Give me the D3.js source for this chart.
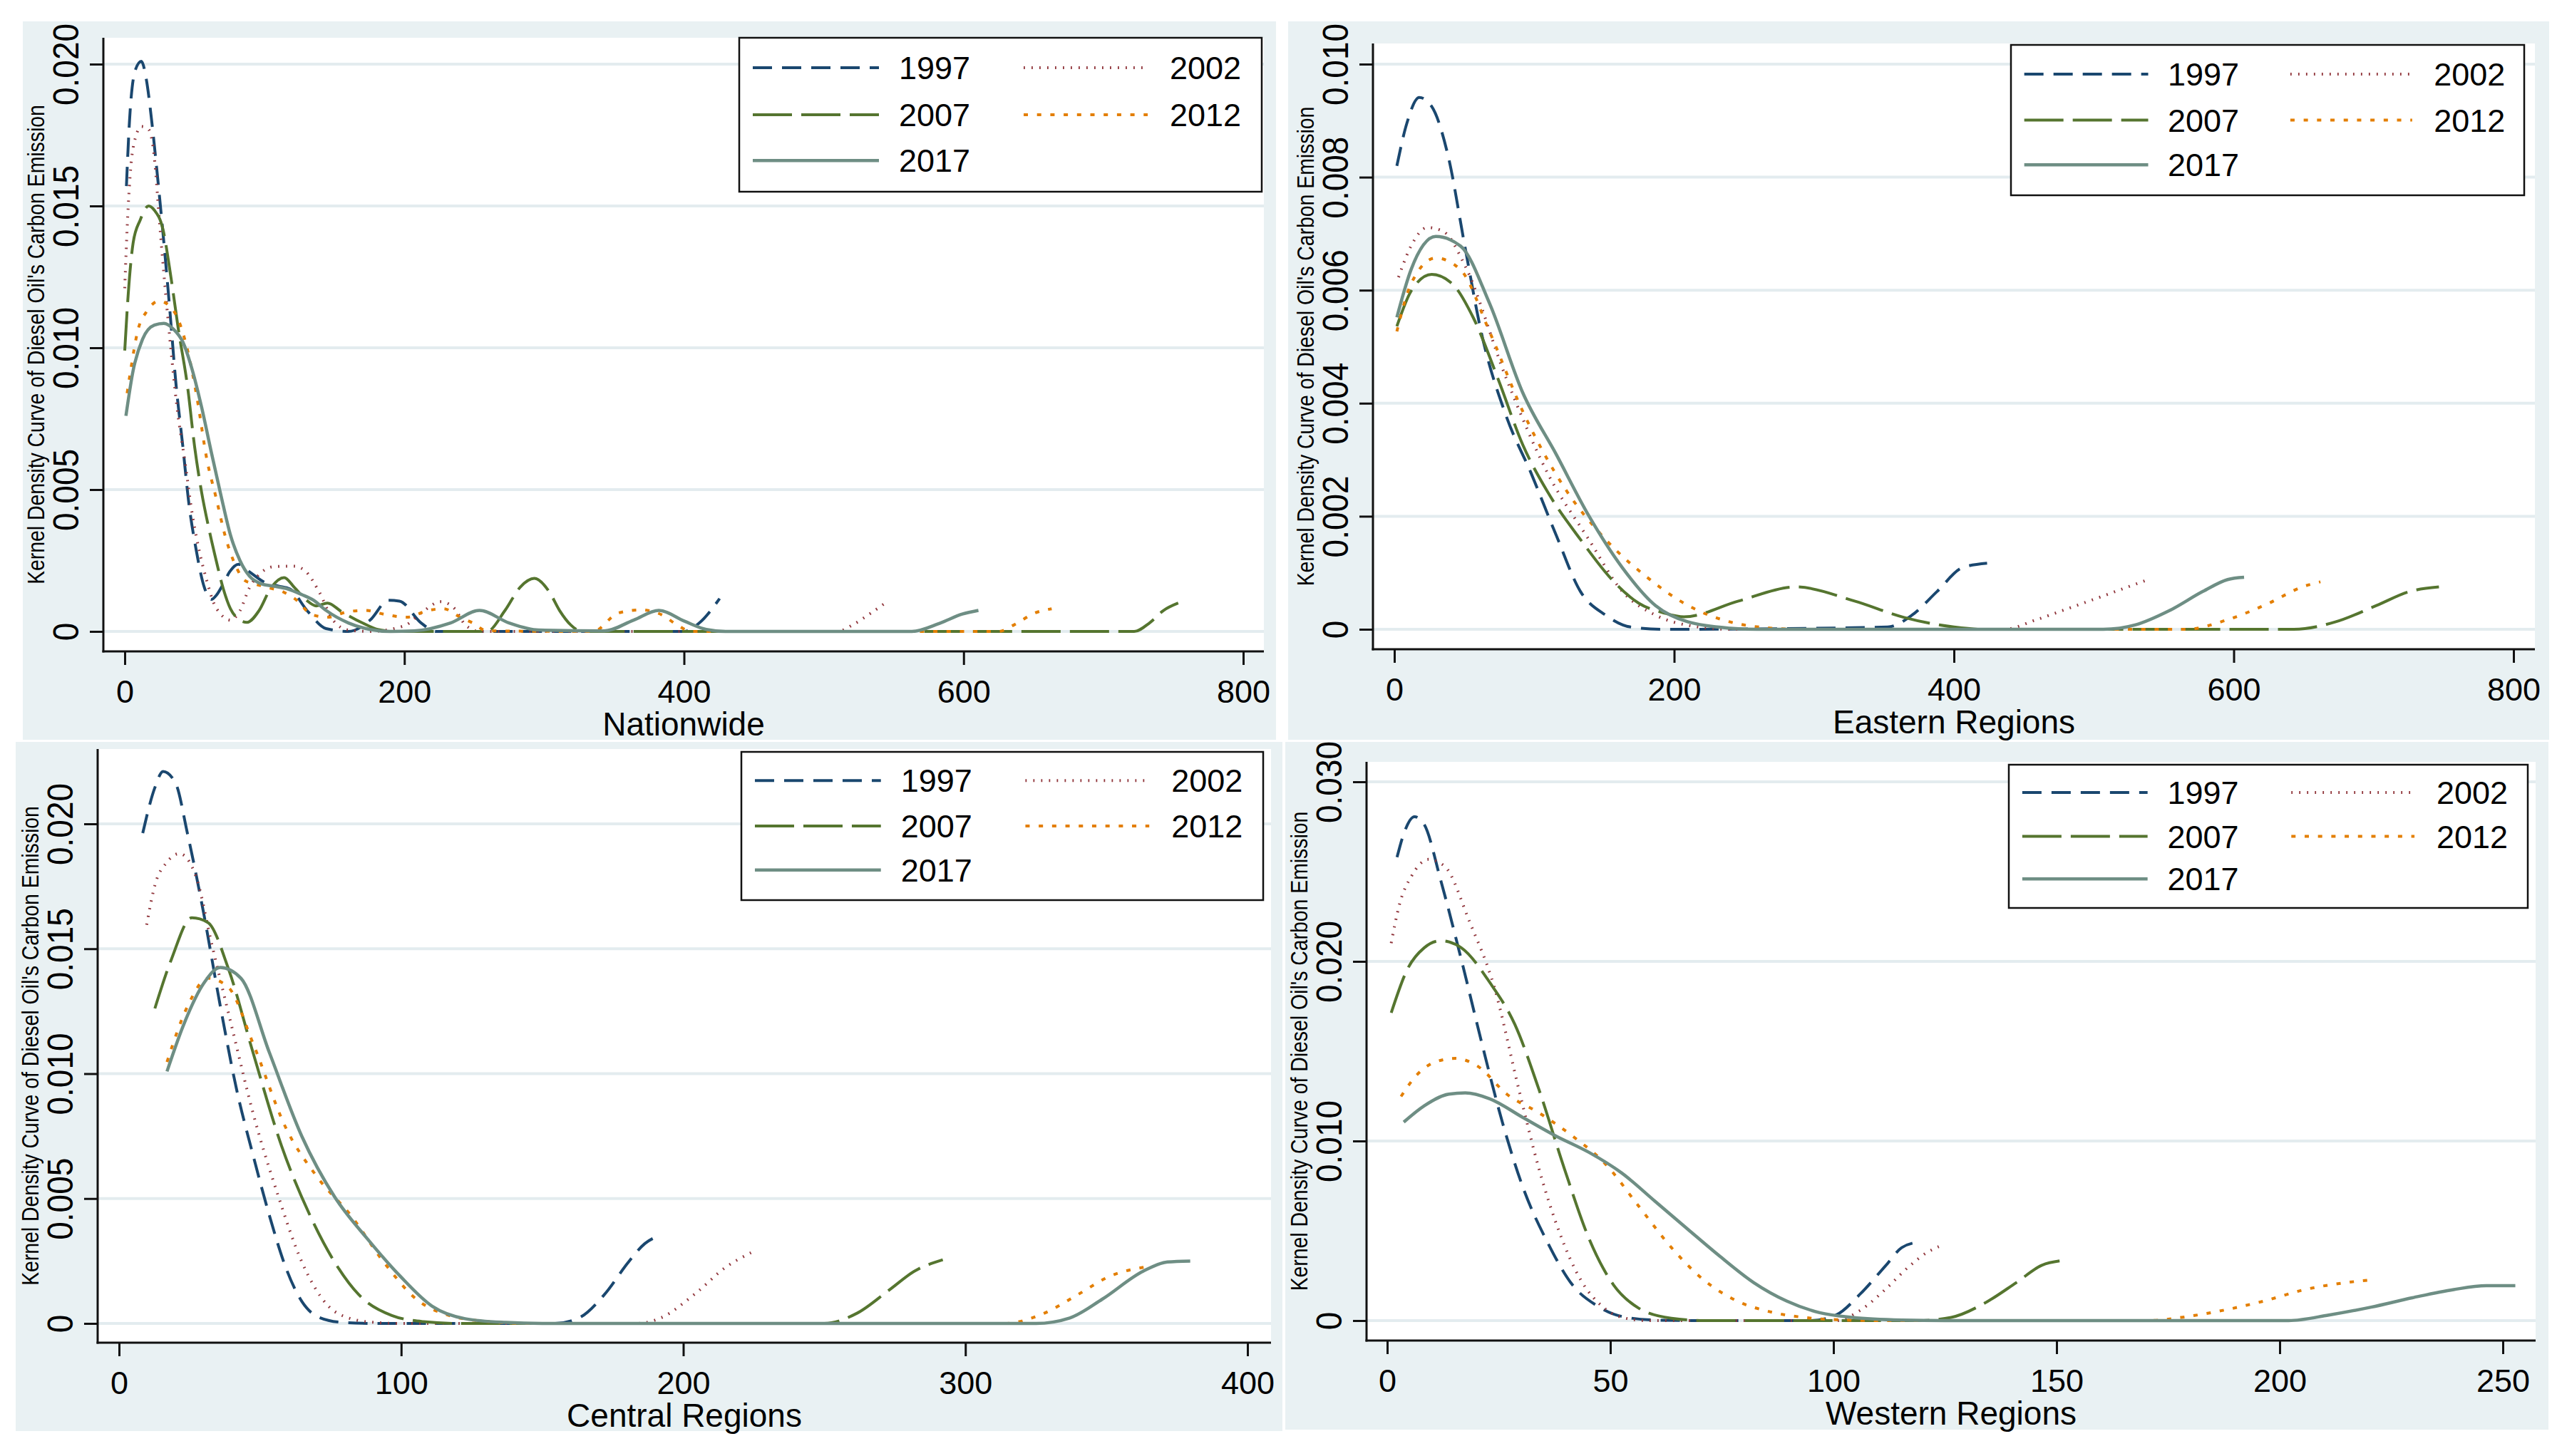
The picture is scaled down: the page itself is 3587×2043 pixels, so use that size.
<!DOCTYPE html>
<html>
<head>
<meta charset="utf-8">
<script src="https://cdn.jsdelivr.net/npm/d3@7"></script>
<style>
  body { margin: 0; background: #fff; }
  svg { display: block; }
  text { font-family: "Liberation Sans", Arial, sans-serif; fill: #000; }
</style>
</head>
<body>
<div id="chart"></div>
<script>
// ---- values ----
var years = ["1997", "2002", "2007", "2012", "2017"];
var yTitle = "Kernel Density Curve of Diesel Oil's Carbon Emission";
var panelTitles = ["Nationwide", "Eastern Regions", "Central Regions", "Western Regions"];

var xTicksWide = [0, 200, 400, 600, 800];
var xTicksCentral = [0, 100, 200, 300, 400];
var xTicksWestern = [0, 50, 100, 150, 200, 250];
var yTicksNation = [0, 0.005, 0.010, 0.015, 0.020];
var yTicksEastern = [0, 0.002, 0.004, 0.006, 0.008, 0.010];
var yTicksCentral = [0, 0.005, 0.010, 0.015, 0.020];
var yTicksWestern = [0, 0.010, 0.020, 0.030];

// Nationwide
var nation1997 = [[1.2,0.0157],[3.4,0.0180],[7.6,0.0198],[11.9,0.0201],[15.3,0.0195],[19.5,0.0179],[22.9,0.0163],[28,0.0137],[32.3,0.0113],[36.5,0.0088],[41.6,0.0065],[45.9,0.0045],[51,0.0029],[57,0.00154],[62,0.00113],[65.4,0.00127],[70.5,0.00168],[75,0.0021],[81.4,0.00237],[89.2,0.0021],[99.7,0.00174],[110,0.0016],[118,0.0015],[131,0.0007],[144,0.0001],[160,0],[175.5,0.0004],[188.6,0.0011],[196.5,0.00107],[212,0.0003],[222.6,0],[400,0],[411,0.0003],[425.5,0.00116]];
var nation2002 = [[0,0.0121],[1.7,0.0142],[4.2,0.0163],[7.6,0.0174],[11.9,0.0178],[17,0.0177],[21.2,0.0167],[24.6,0.0146],[28,0.0126],[32.3,0.0103],[37.4,0.0079],[43.3,0.0059],[48.4,0.0041],[53.5,0.0028],[58.6,0.0018],[63.7,0.0010],[68.8,0.0006],[75.6,0.0004],[82.4,0.00073],[89.2,0.00154],[97.7,0.00208],[106,0.00228],[114.7,0.0023],[121,0.0023],[128.5,0.00216],[139,0.0014],[149,0.0004],[160,0.00005],[175,0],[200,0.0002],[212,0.00065],[226,0.00105],[236,0.0008],[243.6,0.00023],[254,0],[510,0],[520.6,0.00023],[533.8,0.00065],[545.8,0.00107]];
var nation2007 = [[0,0.0099],[2.5,0.0119],[6,0.0137],[11,0.0145],[17,0.0150],[21.2,0.01485],[27.2,0.0142],[33,0.0125],[38.2,0.0107],[45,0.0086],[50,0.0065],[55,0.0049],[60.3,0.0036],[65.4,0.0025],[70.5,0.0015],[75.6,0.0008],[80.8,0.00046],[87.5,0.00032],[96,0.00073],[104.6,0.00154],[114,0.0019],[121.5,0.00154],[130,0.0011],[137,0.0009],[145,0.001],[155,0.0007],[170,0.0003],[181,0.00007],[195,0],[259,0],[272,0.00074],[283,0.00157],[293,0.00187],[303.6,0.0014],[311,0.00074],[319,0.00023],[327,0],[722,0],[733,0.0003],[743,0.00074],[753.5,0.001]];
var nation2012 = [[1.7,0.0084],[4.2,0.0092],[9.3,0.0106],[16,0.0113],[24.6,0.01165],[31.4,0.0115],[38.2,0.0110],[45,0.0099],[51.8,0.0082],[58.6,0.0061],[65.4,0.0047],[72.2,0.0033],[79,0.00235],[85.8,0.0018],[92.6,0.00168],[102.8,0.00154],[113,0.0014],[123,0.0011],[133.5,0.0006],[145,0.0005],[160,0.0007],[172,0.00074],[186,0.0006],[201.7,0.0005],[217,0.00074],[228,0.0008],[240,0.0005],[248.8,0.0003],[259,0.00002],[335,0],[353,0.00065],[369,0.00076],[384.8,0.00057],[395,0.00023],[405.6,0],[625,0],[636,0.00023],[651,0.00065],[663,0.0008]];
var nation2017 = [[0.85,0.0076],[6,0.0092],[12.7,0.0103],[21.2,0.0108],[28,0.01086],[34.8,0.01066],[41.6,0.0102],[48.4,0.0092],[55,0.0079],[62,0.0063],[68.8,0.0048],[75.6,0.0034],[82.4,0.0025],[89.2,0.00195],[97.7,0.00168],[106,0.0016],[116.4,0.0015],[126.6,0.0013],[135,0.0011],[144,0.00074],[160,0.0003],[175.5,0.00007],[190,0],[207,0.00002],[233,0.0003],[253.7,0.00074],[274.9,0.0003],[296,0.00005],[343,0.00002],[364,0.0004],[382,0.00074],[400.4,0.00036],[416,0.00007],[430,0],[563,0],[583.5,0.0003],[599,0.00061],[610.6,0.00074]];

// Eastern Regions
var east1997 = [[1.8,0.0082],[8.9,0.00895],[17.8,0.00941],[26.7,0.00925],[38.5,0.00837],[50.4,0.00678],[62,0.00527],[80,0.00377],[97.8,0.00276],[115.6,0.00167],[133,0.00067],[151,0.00025],[169,0.00004],[192.6,0],[352.6,0.00004],[370,0.00025],[388,0.00067],[406,0.00109],[423.7,0.00117]];
var east2002 = [[3,0.00623],[11.9,0.00678],[23.7,0.00711],[35.6,0.00703],[50.4,0.00644],[80,0.00444],[109.6,0.00276],[139,0.00159],[163,0.00067],[186.7,0.00025],[210,0.00007],[240,0],[435.6,0],[459,0.00017],[483,0.00038],[506.7,0.00059],[524.4,0.00075],[539,0.00088]];
var east2007 = [[1.8,0.00536],[11.9,0.00598],[26.7,0.00628],[41.5,0.00611],[56.3,0.00552],[74,0.00444],[91.9,0.00326],[109.6,0.00243],[133,0.00159],[157,0.00084],[174.8,0.00046],[192.6,0.00029],[207,0.00022],[246,0.0005],[287,0.00075],[329,0.0005],[364.4,0.00021],[400,0.00004],[420,0],[643,0],[672.6,0.00013],[702,0.00042],[726,0.00067],[746.7,0.00075]];
var east2012 = [[1.8,0.00527],[11.9,0.00611],[29.6,0.00657],[47.4,0.00636],[68,0.00527],[91.9,0.00385],[121.5,0.00251],[151,0.00159],[180.7,0.00092],[210,0.00042],[240,0.00013],[269.6,0.00002],[290,0],[566,0],[595.6,0.00017],[625,0.00046],[649,0.00075],[662,0.00084]];
var east2017 = [[1.8,0.00552],[11.9,0.00636],[29.6,0.00695],[47.4,0.00678],[68,0.00577],[91.9,0.00418],[115.6,0.0031],[139,0.00201],[163,0.00109],[186.7,0.00042],[210,0.00013],[240,0.00002],[260,0],[506.7,0],[530,0.00008],[554,0.00033],[578,0.00067],[595.6,0.00088],[607.4,0.00092]];

// Central Regions
var central1997 = [[8.4,0.01963],[12.7,0.02145],[15.6,0.0221],[20,0.02164],[24.3,0.01959],[30,0.01642],[35.9,0.0127],[41.7,0.00935],[47.5,0.00674],[53.3,0.00432],[59,0.00227],[64.8,0.00088],[70.6,0.00026],[79.3,0.00004],[90,0],[154.6,0],[163,0.00022],[172,0.00115],[180.6,0.00246],[186.4,0.0032],[190.7,0.00348]];
var central2002 = [[9.8,0.01596],[12.7,0.01754],[17,0.01847],[21.4,0.01881],[27.2,0.01792],[33,0.01512],[40.2,0.01177],[47.5,0.00842],[56,0.00525],[64.8,0.00246],[73.5,0.00078],[82.2,0.00019],[90.9,0.00004],[100,0],[183.5,0],[192,0.00022],[203.8,0.00115],[215.3,0.00227],[224,0.00283]];
var central2007 = [[12.7,0.01261],[18.5,0.01456],[25.8,0.01624],[31.5,0.01605],[38.8,0.01419],[47.5,0.01084],[57.6,0.00711],[67.7,0.00432],[76.4,0.00246],[85,0.00115],[96.7,0.00032],[108,0.00007],[120,0],[250,0],[261.6,0.00041],[273,0.00134],[281.9,0.00209],[292,0.00255]];
var central2012 = [[17,0.01047],[24.3,0.0127],[31.5,0.01382],[38.8,0.01345],[47.5,0.01121],[59,0.00786],[70.6,0.00581],[82.2,0.00432],[93.8,0.00246],[105.4,0.00097],[117,0.00032],[131.4,0.00007],[145,0],[313.7,0],[328,0.00041],[339.8,0.00115],[351.4,0.0019],[364.4,0.00227]];
var central2017 = [[17,0.01009],[22.9,0.01196],[30.1,0.01363],[35.9,0.01425],[43.2,0.01382],[53.3,0.01084],[64.8,0.00749],[76.4,0.00507],[88,0.00339],[99.6,0.0019],[111,0.00069],[122.7,0.00019],[137,0.00004],[150,0],[325,0],[337,0.00022],[348.5,0.00097],[363,0.00209],[371.6,0.00246],[379.7,0.0025]];

// Western Regions
var west1997 = [[2.2,0.0258],[3.7,0.0271],[6.1,0.02806],[8.3,0.02762],[12,0.02451],[16.6,0.02011],[21.2,0.01545],[25.8,0.01105],[30.4,0.00743],[36,0.00432],[41.5,0.00199],[47,0.00083],[52.6,0.00023],[60,0.00003],[70,0],[95,0],[100.6,0.00031],[106,0.00148],[111.6,0.00303],[115.3,0.00406],[119,0.00437]];
var west2002 = [[0.9,0.02102],[2.8,0.02322],[5.5,0.02477],[9.2,0.02568],[12.9,0.02529],[18.5,0.02218],[24,0.01856],[29.5,0.01287],[34,0.00846],[38.7,0.00484],[43.4,0.00225],[48,0.00083],[52.6,0.00018],[58,0],[100.6,0],[106,0.00057],[111.6,0.00173],[117,0.00303],[121,0.0038],[123.6,0.00412]];
var west2007 = [[0.9,0.01714],[4.6,0.0196],[8.3,0.02076],[12,0.02115],[16.6,0.02076],[23,0.01882],[28.6,0.01649],[34,0.01287],[39.7,0.00846],[45.2,0.00458],[50.7,0.00199],[56.3,0.0007],[63.7,0.00013],[71,0],[119,0],[126.4,0.00018],[133.8,0.00096],[141,0.00212],[146.7,0.00308],[151.3,0.00334]];
var west2012 = [[3.1,0.01248],[6.5,0.01364],[11,0.01442],[15.3,0.0146],[20.3,0.01416],[26.8,0.01261],[34,0.01157],[41.5,0.01028],[48.9,0.00872],[56.3,0.00639],[63.7,0.00406],[71,0.00225],[78.4,0.00109],[85.8,0.00049],[93.2,0.00018],[100.6,0.00005],[110,0],[170.7,0],[178,0.00018],[187.3,0.00057],[196.5,0.00109],[205.7,0.00173],[215,0.00212],[220,0.00225]];
var west2017 = [[3.7,0.01105],[8.3,0.01196],[13.8,0.01261],[17.5,0.01268],[23,0.01235],[30.4,0.01131],[37.8,0.01028],[45.2,0.00937],[52.6,0.00821],[60,0.00665],[67.3,0.0051],[74.7,0.00355],[82.1,0.00212],[89.5,0.00109],[96.9,0.00044],[104.2,0.00018],[115.3,0.00003],[125,0],[202,0],[211,0.00031],[220.5,0.00075],[229.7,0.00127],[239,0.00173],[246.3,0.00194],[252.8,0.00194]];

// ---- styles (Stata s2color look) ----
var lineStyle = {
  "1997": {color: "#1a476f", dash: "27,14", w: 4},
  "2002": {color: "#90353b", dash: "1.8,9.2", w: 4},
  "2007": {color: "#55752f", dash: "55,13", w: 4},
  "2012": {color: "#e37e00", dash: "6,12.7", w: 4},
  "2017": {color: "#6e8e84", dash: null, w: 4.5}
};
var bgColor = "#e9f1f3", gridColor = "#e3ecef";

var W = 3587, H = 2043;
var svg = d3.select("#chart").append("svg")
  .attr("width", W).attr("height", H);
svg.append("rect").attr("width", W).attr("height", H).attr("fill", "#fff");

var yFmt = function(d) { return d === 0 ? "0" : d3.format(".3f")(d); };

function drawPanel(p) {
  var g = svg.append("g");

  g.append("rect")
    .attr("x", p.bg[0]).attr("y", p.bg[1])
    .attr("width", p.bg[2] - p.bg[0]).attr("height", p.bg[3] - p.bg[1])
    .attr("fill", bgColor);

  g.append("rect")
    .attr("x", p.l).attr("y", p.t)
    .attr("width", p.r - p.l).attr("height", p.b - p.t)
    .attr("fill", "#fff");

  var x = d3.scaleLinear().domain([0, p.xMax]).range(p.xr);
  var y = d3.scaleLinear().domain([0, p.yMax]).range(p.yr);

  // grid
  g.selectAll(".grid").data(p.yTicks).join("line")
    .attr("x1", p.l).attr("x2", p.r)
    .attr("y1", function(d) { return y(d); })
    .attr("y2", function(d) { return y(d); })
    .attr("stroke", gridColor).attr("stroke-width", 4);

  // y axis
  var ya = g.append("g").attr("transform", "translate(" + p.l + ",0)")
    .call(d3.axisLeft(y).tickValues(p.yTicks).tickFormat(yFmt).tickSize(19).tickSizeOuter(0));
  ya.select(".domain").remove();
  ya.selectAll(".tick line").attr("stroke", "#111").attr("stroke-width", 3);
  ya.selectAll(".tick text")
    .attr("x", null).attr("dy", null)
    .attr("text-anchor", "middle")
    .attr("font-size", 46)
    .attr("transform", "translate(-35,0) rotate(-90) scale(1,1.08)");

  // x axis
  var xa = g.append("g").attr("transform", "translate(0," + p.b + ")")
    .call(d3.axisBottom(x).tickValues(p.xTicks).tickSize(19).tickSizeOuter(0));
  xa.select(".domain").remove();
  xa.selectAll(".tick line").attr("stroke", "#111").attr("stroke-width", 3);
  xa.selectAll(".tick text")
    .attr("y", 72).attr("dy", null)
    .attr("font-size", 45);

  // axis lines
  g.append("line").attr("x1", p.l).attr("x2", p.l).attr("y1", p.t).attr("y2", p.b + 1.5)
    .attr("stroke", "#111").attr("stroke-width", 3);
  g.append("line").attr("x1", p.l - 1.5).attr("x2", p.r).attr("y1", p.b).attr("y2", p.b)
    .attr("stroke", "#111").attr("stroke-width", 3);

  // titles
  g.append("text")
    .attr("x", (p.l + p.r) / 2).attr("y", p.b + 118)
    .attr("text-anchor", "middle").attr("font-size", 46)
    .text(p.title);
  g.append("text")
    .attr("text-anchor", "middle").attr("font-size", 28.4)
    .attr("transform", "translate(" + (p.l - 83) + "," + ((p.t + p.b) / 2) + ") rotate(-90) scale(1,1.14)")
    .text(yTitle);

  // curves
  var line = d3.line()
    .x(function(d) { return x(d[0]); })
    .y(function(d) { return y(d[1]); })
    .curve(d3.curveMonotoneX);
  years.forEach(function(yr, i) {
    var s = lineStyle[yr];
    g.append("path")
      .datum(p.series[i])
      .attr("fill", "none")
      .attr("stroke", s.color)
      .attr("stroke-width", s.w)
      .attr("stroke-dasharray", s.dash)
      .attr("d", line);
  });

  // legend
  var L = p.leg[0], T = p.leg[1], LW = p.leg[2] - p.leg[0], LH = p.leg[3] - p.leg[1];
  var k = LW / 733;
  g.append("rect")
    .attr("x", L).attr("y", T).attr("width", LW).attr("height", LH)
    .attr("fill", "#fff").attr("stroke", "#111").attr("stroke-width", 2.5);
  var colKey = [[19, 196], [399, 573]], colText = [224, 604];
  var rowY = [0.194, 0.5, 0.797];
  years.forEach(function(yr, i) {
    var c = i % 2, r = Math.floor(i / 2);
    var s = lineStyle[yr];
    var cy = T + LH * rowY[r];
    g.append("line")
      .attr("x1", L + colKey[c][0] * k).attr("x2", L + colKey[c][1] * k)
      .attr("y1", cy).attr("y2", cy)
      .attr("stroke", s.color).attr("stroke-width", s.w)
      .attr("stroke-dasharray", s.dash);
    g.append("text")
      .attr("x", L + colText[c] * k).attr("y", cy + 16)
      .attr("font-size", 45)
      .text(yr);
  });
}

var panels = [
  {title: panelTitles[0], bg: [32, 30, 1790, 1038], l: 145, r: 1773, t: 53, b: 914,
   xMax: 800, xr: [175, 1744], yMax: 0.020, yr: [886, 90],
   xTicks: xTicksWide, yTicks: yTicksNation, leg: [1037, 53, 1770, 269],
   series: [nation1997, nation2002, nation2007, nation2012, nation2017]},
  {title: panelTitles[1], bg: [1807, 30, 3576, 1038], l: 1926, r: 3556, t: 61, b: 911,
   xMax: 800, xr: [1956, 3526], yMax: 0.010, yr: [883, 90],
   xTicks: xTicksWide, yTicks: yTicksEastern, leg: [2821, 63, 3541, 274],
   series: [east1997, east2002, east2007, east2012, east2017]},
  {title: panelTitles[2], bg: [22, 1041, 1799, 2008], l: 137, r: 1783, t: 1051, b: 1884,
   xMax: 400, xr: [167, 1750], yMax: 0.020, yr: [1857, 1156],
   xTicks: xTicksCentral, yTicks: yTicksCentral, leg: [1040, 1055, 1772, 1263],
   series: [central1997, central2002, central2007, central2012, central2017]},
  {title: panelTitles[3], bg: [1803, 1041, 3575, 2006], l: 1917, r: 3557, t: 1069, b: 1881,
   xMax: 250, xr: [1946, 3511], yMax: 0.030, yr: [1853, 1097],
   xTicks: xTicksWestern, yTicks: yTicksWestern, leg: [2818, 1073, 3546, 1274],
   series: [west1997, west2002, west2007, west2012, west2017]}
];

panels.forEach(drawPanel);
</script>
</body>
</html>
